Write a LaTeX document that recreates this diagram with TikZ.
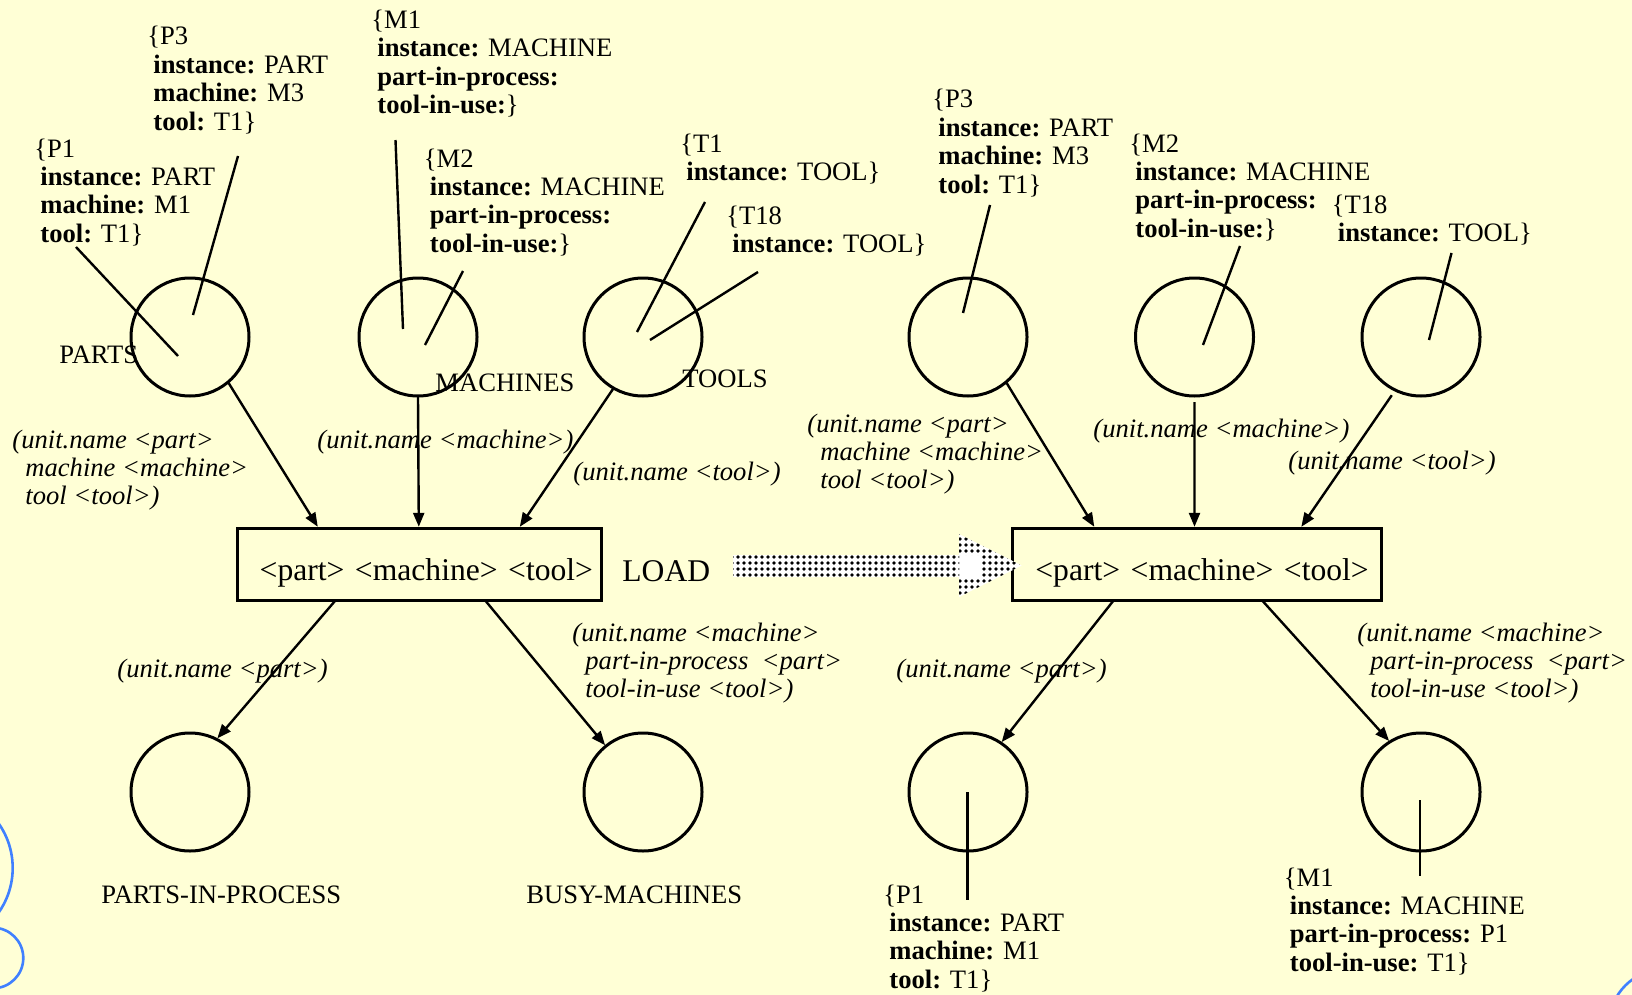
\documentclass[tikz,border=0pt]{standalone}
\usepackage{fontspec}
\setmainfont{Liberation Serif}
\usetikzlibrary{arrows.meta,patterns.meta,calc}
\definecolor{paper}{RGB}{255,255,214}
\definecolor{edgeblue}{RGB}{64,128,255}
\newcommand\lblfont{\fontsize{13.3}{14.2}\selectfont}
\newcommand\boxfont{\fontsize{15.8}{18}\selectfont}
\newcommand\rows[1]{\begin{tabular}[t]{@{}l@{}}#1\end{tabular}}
\newcommand\ind{\hspace*{3pt}}
\newcommand\arcind{\hspace*{6.5pt}}
\newcommand\inscr{\raisebox{-4.3pt}[\height][\depth]{<part> <machine> <tool>}}
\begin{document}
\begin{tikzpicture}[x=0.5pt,y=-0.5pt,
  place/.style={circle, draw, line width=1.5pt, minimum size=59pt, inner sep=0pt, outer sep=0.6pt},
  trans/.style={draw, line width=1.5pt, minimum height=36pt, inner ysep=0pt, align=right, font=\boxfont, outer sep=0.6pt},
  flow/.style={line width=1.2pt, -{Triangle[length=7pt,width=5.5pt]}},
  pointer/.style={line width=1.2pt},
  lbl/.style={anchor=base west, inner sep=0pt, font=\lblfont},
  arclbl/.style={anchor=base west, inner sep=0pt, font=\lblfont\itshape},
  dotfill/.style={pattern={Dots[distance=3pt,radius=0.95pt]}, pattern color=black}]

% canvas
\fill[paper] (0,0) rectangle (1632,995);
\useasboundingbox (0,0) rectangle (1632,995);

% decorative rings at the page edges
\begin{scope}
  \clip (0,0) rectangle (1632,995);
  \draw[edgeblue, line width=1.3pt] (-64.8,868) circle[radius=38.75pt];
  \draw[edgeblue, line width=1.3pt] (-7,958) circle[radius=15.15pt];
  \draw[edgeblue, line width=1.3pt] (1665,1025) circle[radius=28pt];
\end{scope}

% ---------- net before firing ----------
\node[place] (p1) at (190,337) {};
\node[place] (m1) at (418,337) {};
\node[place] (t1) at (643,337) {};
\node[place] (pip1) at (190,792) {};
\node[place] (bm1) at (643,792) {};
\node[trans, text width=174pt, inner xsep=4pt] (load1) at (419,564) {\inscr};
\node[anchor=base west, inner sep=0pt, font=\boxfont] (loadname) at (622,581.5) {LOAD};

\node[lbl] (np1) at (59,363) {PARTS};
\node[lbl] (nm1) at (435,391) {MACHINES};
\node[lbl] (nt1) at (682,387) {TOOLS};
\node[lbl] (npip1) at (101,903) {PARTS-IN-PROCESS};
\node[lbl] (nbm1) at (526,903) {BUSY-MACHINES};

% tokens
\node[lbl] (kp1a) at (34,157) {\rows{\{P1\\ \ind\textbf{instance:} PART\\ \ind\textbf{machine:} M1\\ \ind\textbf{tool:} T1\}}};
\node[lbl] (kp3a) at (147,45) {\rows{\{P3\\ \ind\textbf{instance:} PART\\ \ind\textbf{machine:} M3\\ \ind\textbf{tool:} T1\}}};
\node[lbl] (km1a) at (371,28.5) {\rows{\{M1\\ \ind\textbf{instance:} MACHINE\\ \ind\textbf{part-in-process:}\\ \ind\textbf{tool-in-use:}\}}};
\node[lbl] (km2a) at (423.5,167) {\rows{\{M2\\ \ind\textbf{instance:} MACHINE\\ \ind\textbf{part-in-process:}\\ \ind\textbf{tool-in-use:}\}}};
\node[lbl] (kt1a) at (680,152) {\rows{\{T1\\ \ind\textbf{instance:} TOOL\}}};
\node[lbl] (kt18a) at (726,224.5) {\rows{\{T18\\ \ind\textbf{instance:} TOOL\}}};

% arc inscriptions
\node[arclbl] (a1) at (12,448) {\rows{(unit.name <part>\\ \arcind machine <machine>\\ \arcind tool <tool>)}};
\node[arclbl] (a2) at (317,448) {(unit.name <machine>)};
\node[arclbl] (a3) at (573,480) {(unit.name <tool>)};
\node[arclbl] (a4) at (117,677) {(unit.name <part>)};
\node[arclbl] (a5) at (572,641) {\rows{(unit.name <machine>\\ \arcind part-in-process\ \ <part>\\ \arcind tool-in-use <tool>)}};

% token pointers
\coordinate (s1) at (76,247);    \coordinate (e1) at (178,356);
\coordinate (s2) at (238,156);   \coordinate (e2) at (193,315);
\coordinate (s3) at (395.5,140); \coordinate (e3) at (403,329);
\coordinate (s4) at (463,271);   \coordinate (e4) at (425,345);
\coordinate (s5) at (705,202);   \coordinate (e5) at (637,332);
\coordinate (s6) at (758,272);   \coordinate (e6) at (650,340);
\draw[pointer] (s1) -- (e1);
\draw[pointer] (s2) -- (e2);
\draw[pointer] (s3) -- (e3);
\draw[pointer] (s4) -- (e4);
\draw[pointer] (s5) -- (e5);
\draw[pointer] (s6) -- (e6);

% arcs
\draw[flow] (p1.-50) -- ($(load1.north west)+(82,0)$);
\draw[flow] (m1.south) -- ($(load1.north west)+(183,0)$);
\draw[flow] (t1.240) -- ($(load1.north west)+(284,0)$);
\draw[flow] ($(load1.south west)+(99,0)$) -- (pip1.63);
\draw[flow] ($(load1.south west)+(250,0)$) -- (bm1.129);

% ---------- net after firing ----------
\node[place] (p2) at (968,337) {};
\node[place] (m2) at (1194.5,337) {};
\node[place] (t2) at (1421,337) {};
\node[place] (pip2) at (968,792) {};
\node[place] (bm2) at (1421,792) {};
\node[trans, text width=171.5pt, inner xsep=6.6pt] (load2) at (1197.2,564) {\inscr};

\node[lbl] (kp3b) at (932,108) {\rows{\{P3\\ \ind\textbf{instance:} PART\\ \ind\textbf{machine:} M3\\ \ind\textbf{tool:} T1\}}};
\node[lbl] (km2b) at (1129,152) {\rows{\{M2\\ \ind\textbf{instance:} MACHINE\\ \ind\textbf{part-in-process:}\\ \ind\textbf{tool-in-use:}\}}};
\node[lbl] (kt18b) at (1331.5,213) {\rows{\{T18\\ \ind\textbf{instance:} TOOL\}}};
\node[lbl] (kp1b) at (883,903) {\rows{\{P1\\ \ind\textbf{instance:} PART\\ \ind\textbf{machine:} M1\\ \ind\textbf{tool:} T1\}}};
\node[lbl] (km1b) at (1283.5,886) {\rows{\{M1\\ \ind\textbf{instance:} MACHINE\\ \ind\textbf{part-in-process:} P1\\ \ind\textbf{tool-in-use:} T1\}}};

\node[arclbl] (b1) at (807,432) {\rows{(unit.name <part>\\ \arcind machine <machine>\\ \arcind tool <tool>)}};
\node[arclbl] (b2) at (1093,437) {(unit.name <machine>)};
\node[arclbl] (b3) at (1288,469) {(unit.name <tool>)};
\node[arclbl] (b4) at (896,677) {(unit.name <part>)};
\node[arclbl] (b5) at (1357,641) {\rows{(unit.name <machine>\\ \arcind part-in-process\ \ <part>\\ \arcind tool-in-use <tool>)}};

\coordinate (s7) at (990,205);     \coordinate (e7) at (963,313);
\coordinate (s8) at (1240,246);    \coordinate (e8) at (1203,345);
\coordinate (s9) at (1451.5,253);  \coordinate (e9) at (1429,340);
\coordinate (s10) at (967.5,792);  \coordinate (e10) at (967.5,900);
\coordinate (s11) at (1420,800);   \coordinate (e11) at (1420,876);
\draw[pointer] (s7) -- (e7);
\draw[pointer] (s8) -- (e8);
\draw[pointer] (s9) -- (e9);
\draw[pointer] (s10) -- (e10);
\draw[pointer] (s11) -- (e11);

\draw[flow] (p2.-50) -- ($(load2.north west)+(83,0)$);
\draw[flow, shorten <=2.5pt] (m2.south) -- ($(load2.north west)+(183.2,0)$);
\draw[flow, shorten <=2.5pt] (t2.244) -- ($(load2.north west)+(290,0)$);
\draw[flow] ($(load2.south west)+(101.7,0)$) -- (pip2.56);
\draw[flow] ($(load2.south west)+(251.5,0)$) -- (bm2.122);

% ---------- firing arrow between the two states ----------
\fill[white] (733,555) -- (959,555) -- (959,534) -- (1021.7,565.5) -- (959,597)
  -- (959,577) -- (733,577) -- cycle;
\fill[dotfill] (733,555) rectangle (959,577);
\fill[dotfill, even odd rule]
  (959,534) -- (1021.7,565.5) -- (959,597) -- cycle (959,555) rectangle (982,577);
\end{tikzpicture}
\end{document}
